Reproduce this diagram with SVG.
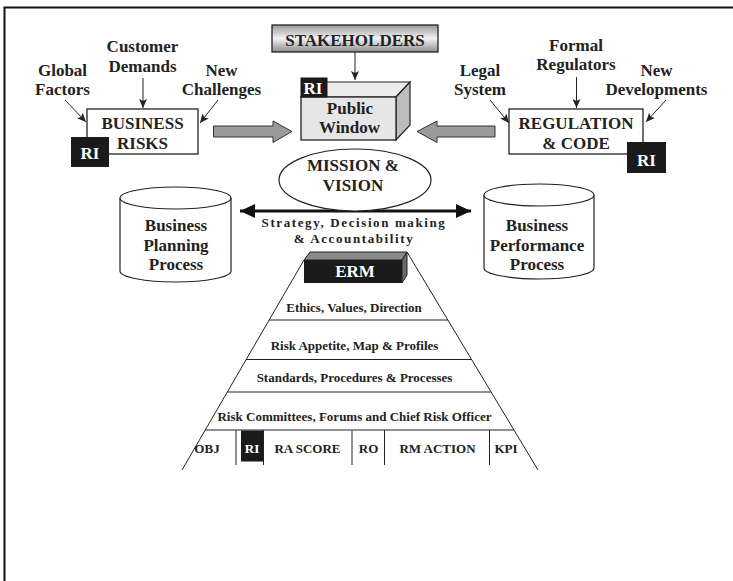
<svg xmlns="http://www.w3.org/2000/svg" width="733" height="581" viewBox="0 0 733 581">
<defs>
<linearGradient id="gStake" x1="0" y1="0" x2="0" y2="1">
<stop offset="0" stop-color="#9a9a9a"/><stop offset="0.5" stop-color="#f2f2f2"/><stop offset="1" stop-color="#8c8c8c"/>
</linearGradient>
<marker id="ah" markerUnits="userSpaceOnUse" markerWidth="10" markerHeight="8" refX="9" refY="4" orient="auto"><path d="M0,0 L9,4 L0,8 L2,4 Z" fill="#222"/></marker>
<marker id="ahBig" markerUnits="userSpaceOnUse" markerWidth="16" markerHeight="14" refX="15" refY="7" orient="auto-start-reverse"><path d="M0,0 L15,7 L0,14 Z" fill="#111"/></marker>
</defs>
<style>
text{font-family:"Liberation Serif","Times New Roman",serif;font-weight:bold;fill:#222;text-anchor:middle}
.lbl{font-size:17px}
.sm{font-size:13px}
.wt{fill:#fff}
.box{fill:#fff;stroke:#222;stroke-width:1.3}
.thin{stroke:#222;stroke-width:1;fill:none}
.blk{fill:#1a1a1a}
.garrow{fill:#9a9a9a;stroke:#333;stroke-width:1}
</style>
<rect width="733" height="581" fill="#fff"/>
<path d="M4.5,581 V7.5 H733" fill="none" stroke="#111" stroke-width="2"/>

<g id="connectors">
<line class="thin" x1="65" y1="100" x2="86" y2="122" marker-end="url(#ah)"/>
<line class="thin" x1="143" y1="78" x2="143" y2="108" marker-end="url(#ah)"/>
<line class="thin" x1="218" y1="100" x2="200" y2="123" marker-end="url(#ah)"/>
<line class="thin" x1="355" y1="52" x2="355" y2="80" marker-end="url(#ah)"/>
<line class="thin" x1="490" y1="100" x2="509" y2="123" marker-end="url(#ah)"/>
<line class="thin" x1="576.5" y1="77" x2="576.5" y2="108" marker-end="url(#ah)"/>
<line class="thin" x1="666" y1="100" x2="646" y2="122" marker-end="url(#ah)"/>
<polygon class="garrow" points="213.5,126 273,126 273,121 292,131.5 273,142.5 273,137 213.5,137"/>
<polygon class="garrow" points="495,126 437,126 437,121 417,131.5 437,142.5 437,137 495,137"/>
<line x1="240" y1="211" x2="471" y2="211" stroke="#111" stroke-width="3" marker-start="url(#ahBig)" marker-end="url(#ahBig)"/>
<text class="sm" x="354" y="227" letter-spacing="1.6">Strategy, Decision making</text>
<text class="sm" x="354" y="243" letter-spacing="1.6">&amp; Accountability</text>
</g>

<g id="global-factors">
<text class="lbl" x="62.5" y="75.5">Global</text>
<text class="lbl" x="62.5" y="95">Factors</text>
</g>
<g id="customer-demands">
<text class="lbl" x="142.5" y="51.5">Customer</text>
<text class="lbl" x="142.5" y="71.5">Demands</text>
</g>
<g id="new-challenges">
<text class="lbl" x="221.5" y="75.5">New</text>
<text class="lbl" x="221.5" y="95">Challenges</text>
</g>
<g id="business-risks">
<rect class="box" x="87" y="109" width="111" height="45"/>
<text class="lbl" x="142.5" y="128.5">BUSINESS</text>
<text class="lbl" x="142.5" y="148.5">RISKS</text>
<rect class="blk" x="71" y="137" width="38" height="30"/>
<text class="lbl wt" x="90" y="159">RI</text>
</g>

<g id="stakeholders">
<rect x="272" y="25" width="166" height="27" fill="url(#gStake)" stroke="#222" stroke-width="1.3"/>
<text class="lbl" x="355" y="45.5">STAKEHOLDERS</text>
</g>
<g id="public-window">
<polygon points="301,97 316,82 410,82 396,97" fill="#ececec" stroke="#222" stroke-width="1.2"/>
<polygon points="396,97 410,82 410,125 396,140" fill="#bdbdbd" stroke="#222" stroke-width="1.2"/>
<rect x="301" y="97" width="95" height="43" fill="#e6e6e6" stroke="#222" stroke-width="1.3"/>
<rect class="blk" x="300.5" y="77.5" width="27" height="20"/>
<text class="lbl wt" x="313" y="93.5">RI</text>
<text class="lbl" x="350" y="113.5">Public</text>
<text class="lbl" x="349.5" y="132.5">Window</text>
</g>

<g id="legal-system">
<text class="lbl" x="480" y="75.5">Legal</text>
<text class="lbl" x="480" y="95">System</text>
</g>
<g id="formal-regulators">
<text class="lbl" x="576" y="50.5">Formal</text>
<text class="lbl" x="576" y="69.5">Regulators</text>
</g>
<g id="new-developments">
<text class="lbl" x="656.5" y="75.5">New</text>
<text class="lbl" x="656.5" y="95">Developments</text>
</g>
<g id="regulation-code">
<rect class="box" x="509" y="109" width="134" height="45"/>
<text class="lbl" x="576" y="128.5">REGULATION</text>
<text class="lbl" x="576" y="148.5">&amp; CODE</text>
<rect class="blk" x="627" y="142" width="39" height="31"/>
<text class="lbl wt" x="646.5" y="166">RI</text>
</g>

<g id="mission-vision">
<ellipse cx="355" cy="180" rx="76" ry="31" fill="#fff" stroke="#222" stroke-width="1.2"/>
<text class="lbl" x="353" y="170.5">MISSION &amp;</text>
<text class="lbl" x="353" y="190.5">VISION</text>
</g>

<g id="business-planning">
<path d="M120,198 V271 A55.5,11 0 0 0 231,271 V198" fill="#fff" stroke="#222" stroke-width="1.2"/>
<ellipse cx="175.5" cy="198" rx="55.5" ry="11" fill="#fff" stroke="#222" stroke-width="1.2"/>
<text class="lbl" x="176" y="231">Business</text>
<text class="lbl" x="176" y="251">Planning</text>
<text class="lbl" x="176" y="270">Process</text>
</g>
<g id="business-performance">
<path d="M484,195 V268 A55,11 0 0 0 594,268 V195" fill="#fff" stroke="#222" stroke-width="1.2"/>
<ellipse cx="539" cy="195" rx="55" ry="11" fill="#fff" stroke="#222" stroke-width="1.2"/>
<text class="lbl" x="537" y="231">Business</text>
<text class="lbl" x="537" y="251">Performance</text>
<text class="lbl" x="537" y="270">Process</text>
</g>

<g id="erm-pyramid">
<line class="thin" x1="304" y1="260" x2="182" y2="470"/>
<line class="thin" x1="407" y1="252" x2="538" y2="470"/>
<line class="thin" x1="269.1" y1="320" x2="447.9" y2="320"/>
<line class="thin" x1="246.2" y1="359.5" x2="471.6" y2="359.5"/>
<line class="thin" x1="227.3" y1="392" x2="490.9" y2="392"/>
<line class="thin" x1="205.2" y1="430" x2="514" y2="430"/>
<line class="thin" x1="236" y1="430" x2="236" y2="465"/>
<line class="thin" x1="263.5" y1="430" x2="263.5" y2="465"/>
<line class="thin" x1="352" y1="430" x2="352" y2="465"/>
<line class="thin" x1="384.5" y1="430" x2="384.5" y2="465"/>
<line class="thin" x1="489.5" y1="430" x2="489.5" y2="465"/>
<text class="sm" x="354" y="311.5">Ethics, Values, Direction</text>
<text class="sm" x="354.5" y="350">Risk Appetite, Map &amp; Profiles</text>
<text class="sm" x="354.5" y="382">Standards, Procedures &amp; Processes</text>
<text class="sm" x="354.5" y="420.5">Risk Committees, Forums and Chief Risk Officer</text>
<text class="sm" x="207" y="453">OBJ</text>
<rect class="blk" x="241" y="430.5" width="22" height="31"/>
<text class="sm wt" x="252" y="453">RI</text>
<text class="sm" x="307.5" y="453">RA SCORE</text>
<text class="sm" x="368.5" y="453">RO</text>
<text class="sm" x="437.5" y="453">RM ACTION</text>
<text class="sm" x="506" y="453">KPI</text>
</g>
<g id="erm">
<polygon points="304,260 310,252 407,252 402,260" fill="#8a8a8a" stroke="#222" stroke-width="1"/>
<polygon points="402,260 407,252 407,275 402,283" fill="#6a6a6a" stroke="#222" stroke-width="1"/>
<rect class="blk" x="304" y="260" width="98" height="23"/>
<text class="lbl wt" x="355" y="277">ERM</text>
</g>
</svg>
